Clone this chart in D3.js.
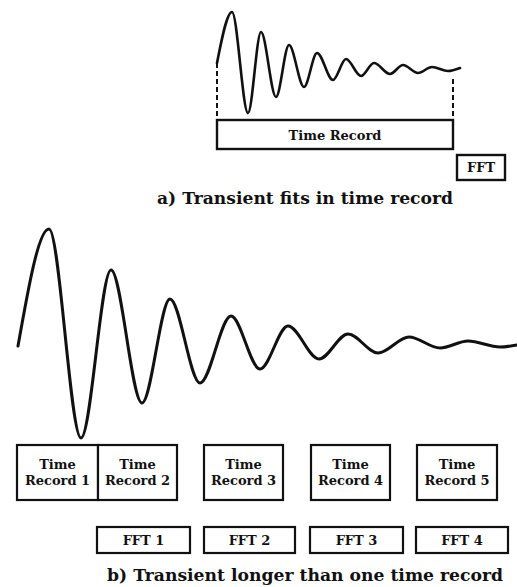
<!DOCTYPE html>
<html>
<head>
<meta charset="utf-8">
<script src="https://cdn.jsdelivr.net/npm/d3@7/dist/d3.min.js"></script>
<style>
  html, body { margin: 0; padding: 0; background: #fff; }
  svg { display: block; }
  text { font-family: "DejaVu Serif", serif; font-weight: bold; fill: #111; }
</style>
</head>
<body>
<svg id="chart" width="517" height="587"></svg>
<script>
// ---- Data ----
// a) transient that fits in one time record: extrema of the decaying oscillation
const topTime = [0, 15, 31, 44, 59, 72, 87, 100, 116, 129, 144, 157, 173, 186, 201, 215, 231, 243];
const topAmp  = [6, 57, -44, 37, -28, 24, -18, 16, -11, 10, -7, 6, -5, 4, -4, 2, -2, 1];
const topRecord = [0, 236];            // time record span (time units)
const topFFT = [240, 288];             // FFT box span
const topRecordLabel = "Time Record";
const topFFTLabel = "FFT";
const captionA = "a) Transient fits in time record";

// b) transient longer than one time record
const botTime = [0, 31, 63, 93, 124, 152, 182, 213, 242, 270, 301, 330, 360, 391, 422, 450, 482, 499];
const botAmp  = [-2, 115, -94, 74, -59, 45, -39, 28, -25, 18, -15, 10, -9, 7, -4, 3, -3, -1];
const recordLabels = ["Record 1", "Record 2", "Record 3", "Record 4", "Record 5"];
const recordStart = [-1, 80, 186, 293, 399];
const recordEnd   = [80, 159, 265, 372, 479];
const fftLabels = ["FFT 1", "FFT 2", "FFT 3", "FFT 4"];
const fftStart = [79, 186, 292, 398];
const fftEnd   = [172, 277, 385, 490];
const captionB = "b) Transient longer than one time record";

// ---- Drawing ----
const svg = d3.select("#chart");

// Panel a scales
const xA = d3.scaleLinear().domain([0, 243]).range([217, 460]);
const yA = d3.scaleLinear().domain([0, 57]).range([69, 12]);

const lineA = d3.line()
  .x((d, i) => xA(topTime[i]))
  .y((d, i) => yA(topAmp[i]))
  .curve(d3.curveMonotoneX);

svg.append("path")
  .datum(topTime)
  .attr("d", lineA)
  .attr("fill", "none")
  .attr("stroke", "#111")
  .attr("stroke-width", 2.6)
  .attr("stroke-linejoin", "round")
  .attr("stroke-linecap", "round");

// dashed markers at record edges
const dashA = [
  { t: topRecord[0], y1: yA(topAmp[0]), y2: 119 },
  { t: topRecord[1], y1: 79, y2: 119 }
];
svg.selectAll("line.dashA").data(dashA).enter().append("line")
  .attr("class", "dashA")
  .attr("x1", d => xA(d.t)).attr("x2", d => xA(d.t))
  .attr("y1", d => d.y1).attr("y2", d => d.y2)
  .attr("stroke", "#111").attr("stroke-width", 2)
  .attr("stroke-dasharray", "5,3");

// Time record box
svg.append("rect")
  .attr("x", xA(topRecord[0])).attr("y", 120)
  .attr("width", xA(topRecord[1]) - xA(topRecord[0])).attr("height", 29)
  .attr("fill", "#fff").attr("stroke", "#111").attr("stroke-width", 2.4);
svg.append("text")
  .attr("x", (xA(topRecord[0]) + xA(topRecord[1])) / 2).attr("y", 140)
  .attr("text-anchor", "middle").attr("font-size", 13)
  .text(topRecordLabel);

// FFT box
svg.append("rect")
  .attr("x", xA(topFFT[0])).attr("y", 155)
  .attr("width", xA(topFFT[1]) - xA(topFFT[0])).attr("height", 25)
  .attr("fill", "#fff").attr("stroke", "#111").attr("stroke-width", 2.4);
svg.append("text")
  .attr("x", (xA(topFFT[0]) + xA(topFFT[1])) / 2).attr("y", 172)
  .attr("text-anchor", "middle").attr("font-size", 13)
  .text(topFFTLabel);

svg.append("text")
  .attr("x", 305).attr("y", 204)
  .attr("text-anchor", "middle").attr("font-size", 16)
  .attr("textLength", 296).attr("lengthAdjust", "spacingAndGlyphs")
  .text(captionA);

// Panel b scales
const xB = d3.scaleLinear().domain([0, 499]).range([18, 517]);
const yB = d3.scaleLinear().domain([0, 115]).range([344, 229]);

const lineB = d3.line()
  .x((d, i) => xB(botTime[i]))
  .y((d, i) => yB(botAmp[i]))
  .curve(d3.curveMonotoneX);

svg.append("path")
  .datum(botTime)
  .attr("d", lineB)
  .attr("fill", "none")
  .attr("stroke", "#111")
  .attr("stroke-width", 3)
  .attr("stroke-linejoin", "round")
  .attr("stroke-linecap", "round");

// Time record boxes
const recG = svg.selectAll("g.rec").data(recordLabels).enter().append("g").attr("class", "rec");
recG.append("rect")
  .attr("x", (d, i) => xB(recordStart[i])).attr("y", 445)
  .attr("width", (d, i) => xB(recordEnd[i]) - xB(recordStart[i])).attr("height", 55)
  .attr("fill", "#fff").attr("stroke", "#111").attr("stroke-width", 2.2);
recG.append("text")
  .attr("x", (d, i) => (xB(recordStart[i]) + xB(recordEnd[i])) / 2).attr("y", 469)
  .attr("text-anchor", "middle").attr("font-size", 13)
  .text("Time");
recG.append("text")
  .attr("x", (d, i) => (xB(recordStart[i]) + xB(recordEnd[i])) / 2).attr("y", 485)
  .attr("text-anchor", "middle").attr("font-size", 13)
  .text(d => d);

// FFT boxes
const fftG = svg.selectAll("g.fft").data(fftLabels).enter().append("g").attr("class", "fft");
fftG.append("rect")
  .attr("x", (d, i) => xB(fftStart[i])).attr("y", 527)
  .attr("width", (d, i) => xB(fftEnd[i]) - xB(fftStart[i])).attr("height", 26)
  .attr("fill", "#fff").attr("stroke", "#111").attr("stroke-width", 2.2);
fftG.append("text")
  .attr("x", (d, i) => (xB(fftStart[i]) + xB(fftEnd[i])) / 2).attr("y", 545)
  .attr("text-anchor", "middle").attr("font-size", 13)
  .text(d => d);

svg.append("text")
  .attr("x", 305).attr("y", 581)
  .attr("text-anchor", "middle").attr("font-size", 16)
  .attr("textLength", 396).attr("lengthAdjust", "spacingAndGlyphs")
  .text(captionB);
</script>
</body>
</html>
